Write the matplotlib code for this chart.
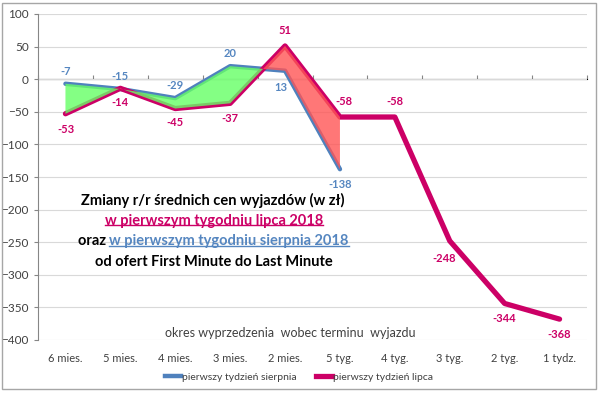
import matplotlib.pyplot as plt
from matplotlib.patches import Rectangle
from matplotlib.lines import Line2D
import numpy as np

categories = ["6 mies.", "5 mies.", "4 mies.", "3 mies.", "2 mies.",
              "5 tyg.", "4 tyg.", "3 tyg.", "2 tyg.", "1 tydz."]
sierpien = [-7, -15, -29, 20, 13, -138]
lipiec = [-53, -14, -45, -37, 51, -58, -58, -248, -344, -368]

BLUE = "#4f81bd"
BLUE_TXT = "#5586c0"
MAG = "#cc0066"
GRAY = "#404040"

plt.rcParams['font.family'] = ['Lato', 'DejaVu Sans']

fig = plt.figure(figsize=(6, 3.94), dpi=100)
W, H = 600, 394


def fx(px):
    return px / W


def fy(py):
    return 1 - py / H


ax = fig.add_axes([fx(38), fy(340), fx(587) - fx(38), fy(14) - fy(340)])

x_all = np.arange(len(categories))
x_s = np.arange(len(sierpien))

ax.plot(x_s, sierpien, color=BLUE, lw=3.2, zorder=3, solid_capstyle='round')
ax.plot(x_all, lipiec, color=MAG, lw=3.8, zorder=3, solid_capstyle='round')

lip_part = np.array(lipiec[:len(sierpien)])
sie = np.array(sierpien)
ax.fill_between(x_s, sie, lip_part, where=sie >= lip_part, interpolate=True,
                color="#66ff66", alpha=0.8, lw=0, zorder=4)
ax.fill_between(x_s, sie, lip_part, where=sie <= lip_part, interpolate=True,
                color="#ff5555", alpha=0.8, lw=0, zorder=4)

# data labels
s_off = [(0, 9), (0, 9), (0, 9), (0, 9), (-3, -12), (0, -11)]
for i, v in enumerate(sierpien):
    ax.annotate(str(v), (i, v), xytext=s_off[i], textcoords='offset points',
                ha='center', va='center', color=BLUE_TXT, fontsize=8,
                fontweight='bold', zorder=5)
l_off = [(0, -11), (0, -10), (0, -10), (0, -11), (0, 11), (3, 11),
         (0, 11), (-4, -13), (0, -11), (0, -11)]
for i, v in enumerate(lipiec):
    ax.annotate(str(v), (i, v), xytext=l_off[i], textcoords='offset points',
                ha='center', va='center', color=MAG, fontsize=8,
                fontweight='bold', zorder=5)

ax.set_xlim(-0.5, len(categories) - 0.5)
ax.set_ylim(-400, 100)
ax.set_yticks(np.arange(-400, 101, 50))
ax.grid(axis='y', color="#d9d9d9", lw=0.8)
ax.set_axisbelow(True)
ax.tick_params(axis='y', colors="#868686", labelcolor=GRAY, labelsize=8.5,
               length=3, width=0.8)
ax.set_xticks(x_all)
ax.set_xticklabels(categories)
ax.tick_params(axis='x', length=0, pad=9, labelsize=8, labelcolor=GRAY)
for s in ['top', 'right', 'bottom']:
    ax.spines[s].set_visible(False)
ax.spines['left'].set_color("#868686")
ax.spines['left'].set_linewidth(0.8)

# category axis crossing at 0
sec = ax.secondary_xaxis(0.8)
sec.set_xticks(np.arange(-0.5, len(categories), 1.0))
sec.set_xticklabels([])
sec.tick_params(length=3, colors="#868686", width=0.8)
sec.spines['bottom'].set_color("#868686")
sec.spines['bottom'].set_linewidth(0.8)

ax.text(4.1, -389, "okres wyprzedzenia  wobec terminu  wyjazdu", ha='center',
        va='center', fontsize=9, color=GRAY)

# title block
fs = 10.5
t1 = fig.text(fx(213), fy(200), "Zmiany r/r średnich cen wyjazdów (w zł)",
              ha='center', va='center', fontsize=fs, fontweight='bold', color='black')
t2 = fig.text(fx(214), fy(221), "w pierwszym tygodniu lipca 2018",
              ha='center', va='center', fontsize=fs, fontweight='bold', color=MAG)
t4 = fig.text(fx(214), fy(262), "od ofert First Minute do Last Minute",
              ha='center', va='center', fontsize=fs, fontweight='bold', color='black')

fig.canvas.draw()
r = fig.canvas.get_renderer()
ta = fig.text(0, fy(241), "oraz ", ha='left', va='center', fontsize=fs,
              fontweight='bold', color='black')
tb = fig.text(0, fy(241), "w pierwszym tygodniu sierpnia 2018", ha='left',
              va='center', fontsize=fs, fontweight='bold', color=BLUE_TXT)
wa = ta.get_window_extent(r).width
wb = tb.get_window_extent(r).width
x0 = 213 - (wa + wb) / 2
ta.set_x(fx(x0))
tb.set_x(fx(x0 + wa))
fig.canvas.draw()

for t, c in [(t2, MAG), (tb, BLUE_TXT)]:
    bb = t.get_window_extent(r)
    yl = bb.y0 + 2.5
    fig.add_artist(Line2D([bb.x0 / W, bb.x1 / W], [yl / H, yl / H],
                          color=c, lw=1.0, transform=fig.transFigure))

# legend
handles = [Line2D([], [], color=BLUE, lw=3.2), Line2D([], [], color=MAG, lw=3.8)]
fig.legend(handles, ["pierwszy tydzień sierpnia", "pierwszy tydzień lipca"],
           loc='center', bbox_to_anchor=(fx(299), fy(377)), ncol=2, frameon=False,
           fontsize=7.5, handlelength=1.6, handletextpad=0.1, columnspacing=1.8,
           labelcolor=GRAY)

fig.add_artist(Rectangle((fx(2), fy(389)), fx(594), fy(3) - fy(389),
                         transform=fig.transFigure, fill=False,
                         edgecolor="#a6a6a6", lw=1))

fig.savefig("out.png", dpi=100)
